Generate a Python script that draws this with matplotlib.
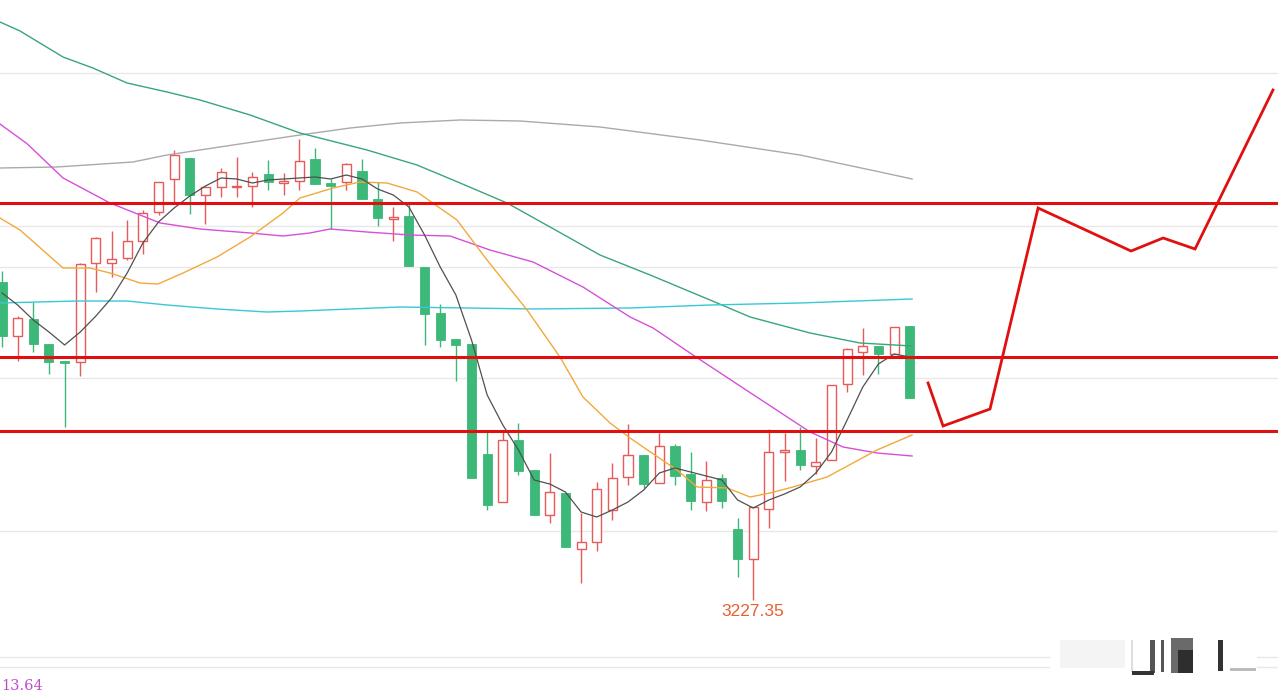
import matplotlib
matplotlib.use("Agg")
import matplotlib.pyplot as plt
from matplotlib.patches import Rectangle
import numpy as np

# ---------------- data ----------------
opens = [3331.65, 3313.95, 3319.52, 3311.32, 3305.75, 3305.42, 3337.88, 3337.88, 3339.52, 3345.09,
         3354.60, 3365.42, 3372.31, 3360.18, 3362.80, 3362.80, 3363.13, 3367.06, 3364.11, 3364.77,
         3371.98, 3364.11, 3364.44, 3368.04, 3358.86, 3352.31, 3353.29, 3336.57, 3321.49, 3312.96,
         3311.32, 3275.26, 3259.52, 3279.85, 3270.01, 3255.26, 3262.47, 3244.11, 3246.41, 3256.90,
         3267.72, 3274.93, 3265.75, 3277.88, 3268.70, 3259.52, 3267.39, 3250.67, 3240.83, 3257.22,
         3275.91, 3276.57, 3271.32, 3273.29, 3298.21, 3308.70, 3310.67, 3308.04, 3317.22]
highs = [3335.26, 3320.50, 3325.09, 3311.32, 3305.75, 3337.88, 3346.41, 3348.37, 3351.98, 3355.26,
         3364.44, 3374.93, 3372.31, 3363.13, 3369.03, 3372.63, 3367.72, 3371.65, 3367.39, 3378.54,
         3375.59, 3365.42, 3370.67, 3371.98, 3364.44, 3356.24, 3357.55, 3336.57, 3324.44, 3312.96,
         3311.32, 3282.80, 3282.80, 3285.42, 3270.01, 3275.59, 3262.47, 3255.91, 3266.08, 3272.31,
         3285.09, 3274.93, 3282.14, 3278.54, 3275.91, 3272.96, 3268.70, 3254.27, 3257.88, 3283.45,
         3282.14, 3284.11, 3280.50, 3297.88, 3310.01, 3316.57, 3310.67, 3316.90, 3317.22]
lows = [3310.34, 3305.75, 3308.70, 3301.49, 3284.11, 3300.83, 3328.37, 3333.29, 3338.86, 3340.83,
        3353.62, 3357.55, 3353.95, 3350.67, 3359.52, 3359.52, 3356.24, 3361.81, 3360.18, 3361.81,
        3363.78, 3349.03, 3361.81, 3358.86, 3350.01, 3345.09, 3336.90, 3311.00, 3310.34, 3299.19,
        3267.39, 3256.90, 3259.52, 3268.37, 3255.26, 3252.63, 3244.77, 3232.96, 3243.45, 3253.62,
        3265.09, 3264.11, 3265.75, 3265.09, 3256.90, 3256.57, 3257.55, 3234.93, 3227.35, 3251.00,
        3266.40, 3270.01, 3268.70, 3273.29, 3295.59, 3301.16, 3301.49, 3308.04, 3293.62]
closes = [3313.95, 3319.85, 3311.32, 3305.42, 3305.09, 3337.55, 3346.08, 3339.19, 3345.09, 3354.27,
          3364.44, 3373.29, 3360.18, 3362.80, 3367.72, 3363.13, 3366.08, 3364.44, 3364.77, 3371.32,
          3363.78, 3363.13, 3370.34, 3358.86, 3352.63, 3352.96, 3336.90, 3321.16, 3312.63, 3311.00,
          3267.39, 3258.54, 3279.85, 3269.68, 3255.26, 3262.80, 3244.77, 3246.41, 3263.78, 3267.39,
          3274.93, 3265.42, 3277.88, 3268.04, 3259.85, 3266.73, 3259.85, 3240.83, 3257.88, 3275.91,
          3276.57, 3271.65, 3272.63, 3297.88, 3309.68, 3310.67, 3308.04, 3316.90, 3293.62]

ma5 = [3328.04, 3324.11, 3319.19, 3315.26, 3311.00, 3315.26, 3320.50, 3326.41, 3334.60, 3344.44,
       3351.32, 3355.91, 3359.85, 3363.13, 3365.75, 3365.42, 3364.11, 3365.10, 3365.42, 3365.75,
       3366.08, 3365.42, 3366.73, 3365.42, 3362.14, 3360.18, 3356.24, 3347.06, 3336.57, 3327.39,
       3312.63, 3294.60, 3284.77, 3276.57, 3266.73, 3265.42, 3262.80, 3256.24, 3254.60, 3256.90,
       3259.52, 3263.45, 3269.03, 3270.67, 3269.36, 3268.04, 3266.73, 3260.18, 3257.55, 3260.18,
       3262.14, 3264.44, 3269.03, 3275.91, 3286.41, 3297.22, 3304.77, 3308.04, 3307.06]

# moving-average curves sampled as (bar index, value)
ma10_x = [-0.13, 1.15, 3.90, 5.62, 6.90, 8.82, 9.97, 11.57, 13.74, 15.85, 17.96, 19.04, 21.15,
          22.88, 24.60, 26.52, 29.07, 30.99, 33.55, 35.65, 37.12, 38.85, 40.13, 40.96, 43.13,
          44.41, 46.33, 47.80, 49.07, 50.54, 52.72, 55.91, 58.15]
ma10_y = [3352.63, 3348.70, 3336.24, 3336.24, 3334.60, 3331.32, 3331.00, 3334.60, 3339.85, 3346.41,
          3354.27, 3359.19, 3362.47, 3364.44, 3364.11, 3361.16, 3351.98, 3338.86, 3322.47, 3307.06,
          3293.95, 3285.42, 3280.50, 3277.55, 3270.01, 3264.44, 3264.11, 3261.16, 3262.47, 3264.44,
          3267.72, 3276.57, 3281.49]

ma20_x = [-0.13, 1.60, 3.90, 6.90, 10.10, 12.65, 15.85, 17.96, 19.68, 20.96, 23.32, 26.07, 28.63,
          31.18, 33.93, 37.12, 40.13, 41.60, 44.15, 47.35, 51.63, 53.74, 55.91, 58.15]
ma20_y = [3383.45, 3377.00, 3365.75, 3357.55, 3351.00, 3349.03, 3347.72, 3346.73, 3347.72, 3349.03,
          3348.04, 3347.06, 3346.73, 3342.14, 3338.21, 3330.01, 3320.18, 3316.57, 3307.72, 3296.90,
          3282.47, 3277.55, 3275.59, 3274.60]

ma60_x = [-0.13, 1.15, 3.90, 5.81, 7.99, 10.54, 12.65, 15.85, 19.04, 23.32, 26.52, 29.27, 32.27,
          35.02, 38.21, 41.41, 45.24, 47.80, 51.63, 54.82, 58.15]
ma60_y = [3416.90, 3413.95, 3405.42, 3401.81, 3396.90, 3393.95, 3391.32, 3386.41, 3380.50, 3374.93,
          3370.01, 3364.11, 3357.55, 3349.68, 3340.50, 3333.95, 3325.75, 3320.18, 3314.93, 3311.65,
          3310.67]

ma120_x = [-0.13, 4.79, 7.99, 10.54, 13.74, 16.93, 19.04, 25.43, 29.71, 33.93, 40.13, 45.24,
           50.99, 58.15]
ma120_y = [3324.77, 3325.42, 3325.42, 3324.11, 3322.80, 3321.81, 3322.14, 3323.45, 3323.13, 3322.80,
           3323.13, 3324.11, 3324.77, 3326.08]

ma250_x = [-0.13, 3.51, 8.37, 10.54, 14.76, 19.04, 22.24, 25.43, 29.27, 33.10, 38.21, 44.60,
           50.99, 56.10, 58.15]
ma250_y = [3369.03, 3369.36, 3371.00, 3373.29, 3376.57, 3379.85, 3382.14, 3383.78, 3384.77,
           3384.44, 3382.47, 3378.21, 3373.29, 3367.72, 3365.42]

support_resistance = [3357.55, 3307.05, 3282.80]

forecast_x = [59.17, 60.13, 63.13, 66.20, 72.14, 74.19, 76.23, 81.21]
forecast_y = [3298.54, 3284.44, 3290.01, 3355.91, 3341.81, 3346.08, 3342.47, 3394.60]

grid_levels = [3400.18, 3350.00, 3336.57, 3300.17, 3250.00, 3208.70, 3205.42]

low_label = "3227.35"
corner_label = "13.64"

# ---------------- drawing ----------------
UP = "#e85a5a"
DOWN = "#3cb878"
W, H = 1278, 695

fig = plt.figure(figsize=(12.78, 6.95), dpi=100)
ax = fig.add_axes([0, 0, 1, 1])
ax.set_xlim(-0.128, 81.53)
ax.set_ylim(3196.24, 3424.11)
ax.axis("off")

for g in grid_levels:
    ax.axhline(g, color="#e8e8e8", lw=1.0, zorder=0)

idx = np.arange(len(opens))
o = np.array(opens); h = np.array(highs); l = np.array(lows); c = np.array(closes)
up = c >= o
w = 0.58
for i in idx:
    col = UP if up[i] else DOWN
    ax.vlines(i, l[i], h[i], color=col, lw=1.0, zorder=2)
    bottom = min(o[i], c[i])
    height = max(abs(c[i] - o[i]), 0.35)
    if up[i]:
        ax.bar(i, height, bottom=bottom, width=w, facecolor="white", edgecolor=col,
               lw=1.0, zorder=3)
    else:
        ax.bar(i, height, bottom=bottom, width=w, facecolor=col, edgecolor=col,
               lw=0.6, zorder=3)

ax.plot(ma250_x, ma250_y, color="#aaaaaa", lw=1.0, zorder=4)
ax.plot(ma60_x, ma60_y, color="#3aa57a", lw=1.0, zorder=4)
ax.plot(ma120_x, ma120_y, color="#38c8d8", lw=1.0, zorder=4)
ax.plot(ma20_x, ma20_y, color="#d84fd8", lw=1.0, zorder=4)
ax.plot(ma10_x, ma10_y, color="#f2a93b", lw=1.0, zorder=4)
ax.plot(idx, ma5, color="#505050", lw=0.9, zorder=4)

for lvl in support_resistance:
    ax.axhline(lvl, color="#e01010", lw=2.2, zorder=5)

ax.plot(forecast_x, forecast_y, color="#e01010", lw=2.0, zorder=6, solid_joinstyle="miter")

ax.annotate(low_label, xy=(int(np.argmin(l)), l.min()), xytext=(0, -2.5),
            textcoords="offset points", ha="center", va="top",
            fontsize=12.5, color="#e8602c", family="Liberation Sans", zorder=7)

fig.text(1.0 / W, 0.013, corner_label, ha="left", va="center", fontsize=10.5,
         color="#c04ccc", family="DejaVu Serif")

# faint blurred watermark in the lower-right corner
def px_rect(x0, y0, x1, y1, **kw):
    fig.patches.append(Rectangle((x0 / W, 1 - y1 / H), (x1 - x0) / W, (y1 - y0) / H,
                                 transform=fig.transFigure, figure=fig, **kw))

px_rect(1050, 636, 1257, 676, facecolor="white", edgecolor="none", zorder=10)
px_rect(1060, 640, 1125, 668, facecolor="#f4f4f4", edgecolor="none", zorder=11)
px_rect(1131, 640, 1133, 672, facecolor="#dddddd", edgecolor="none", zorder=11)
px_rect(1150, 640, 1155, 673, facecolor="#555555", edgecolor="none", zorder=11)
px_rect(1132, 671, 1154, 675, facecolor="#333333", edgecolor="none", zorder=11)
px_rect(1161, 640, 1164, 672, facecolor="#555555", edgecolor="none", zorder=11)
px_rect(1171, 638, 1193, 673, facecolor="#6a6a6a", edgecolor="none", zorder=11)
px_rect(1178, 650, 1193, 673, facecolor="#2e2e2e", edgecolor="none", zorder=12)
px_rect(1218, 640, 1223, 671, facecolor="#333333", edgecolor="none", zorder=11)
px_rect(1230, 668, 1256, 671, facecolor="#bbbbbb", edgecolor="none", zorder=11)

fig.savefig("out.png", dpi=100)
